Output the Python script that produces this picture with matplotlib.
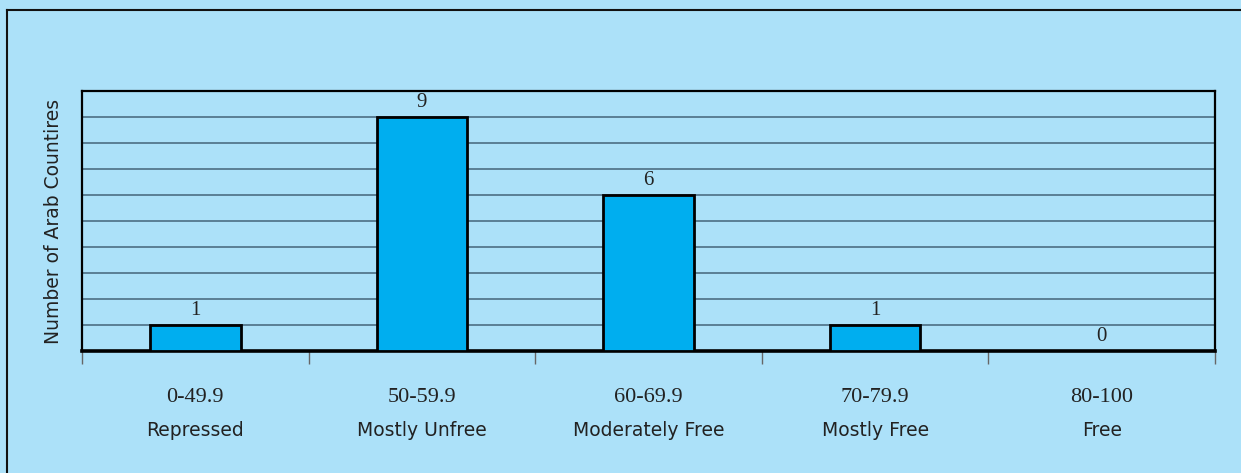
import numpy as np
import matplotlib
matplotlib.use("Agg")
import matplotlib.pyplot as plt
from matplotlib.lines import Line2D

ranges = ["0-49.9", "50-59.9", "60-69.9", "70-79.9", "80-100"]
classes = ["Repressed", "Mostly Unfree", "Moderately Free", "Mostly Free", "Free"]
counts = [1, 9, 6, 1, 0]

bg = "#ace1f9"
bar_color = "#00aeef"
grid_color = "#4d6e84"
text_color = "#222222"

fig = plt.figure(figsize=(12.41, 4.73), dpi=100, facecolor=bg)
ax = fig.add_axes([82 / 1241, 1 - 351 / 473, (1215 - 82) / 1241, (351 - 91) / 473])
ax.set_facecolor(bg)

x = np.arange(len(counts))
ax.bar(x, counts, width=0.4, color=bar_color, edgecolor="black", linewidth=2, zorder=3)

for xi, c in zip(x, counts):
    ax.text(xi, c + 0.2, str(c), ha="center", va="bottom", fontsize=15,
            family="Liberation Serif", color=text_color)

ax.set_xlim(-0.5, len(counts) - 0.5)
ax.set_ylim(0, 10)
ax.set_yticks(np.arange(1, 10))
ax.set_yticklabels([])
ax.tick_params(axis="y", length=0)
ax.grid(axis="y", color=grid_color, linewidth=1.2, zorder=0)

ax.set_xticks(np.arange(-0.5, len(counts)))
ax.set_xticklabels([])
ax.tick_params(axis="x", direction="out", length=9, width=1, color="#666666")

for side in ["left", "right", "top"]:
    ax.spines[side].set_linewidth(1.6)
ax.spines["bottom"].set_linewidth(2.6)

trans = ax.get_xaxis_transform()
for xi, r, cl in zip(x, ranges, classes):
    ax.text(xi, -0.18, r, ha="center", va="center", fontsize=16,
            family="Liberation Serif", color=text_color, transform=trans)
    ax.text(xi, -0.305, cl, ha="center", va="center", fontsize=13.5,
            family="DejaVu Sans", color=text_color, transform=trans)

ax.set_ylabel("Number of Arab Countires", fontsize=13.5, color=text_color, labelpad=10)

# outer frame (left and top edges only visible)
fig.add_artist(Line2D([7 / 1241, 7 / 1241], [0, 1 - 10 / 473], color="#111111", linewidth=1.5))
fig.add_artist(Line2D([7 / 1241, 1], [1 - 10 / 473, 1 - 10 / 473], color="#111111", linewidth=1.5))

fig.savefig("out.png", dpi=100, facecolor=bg)
